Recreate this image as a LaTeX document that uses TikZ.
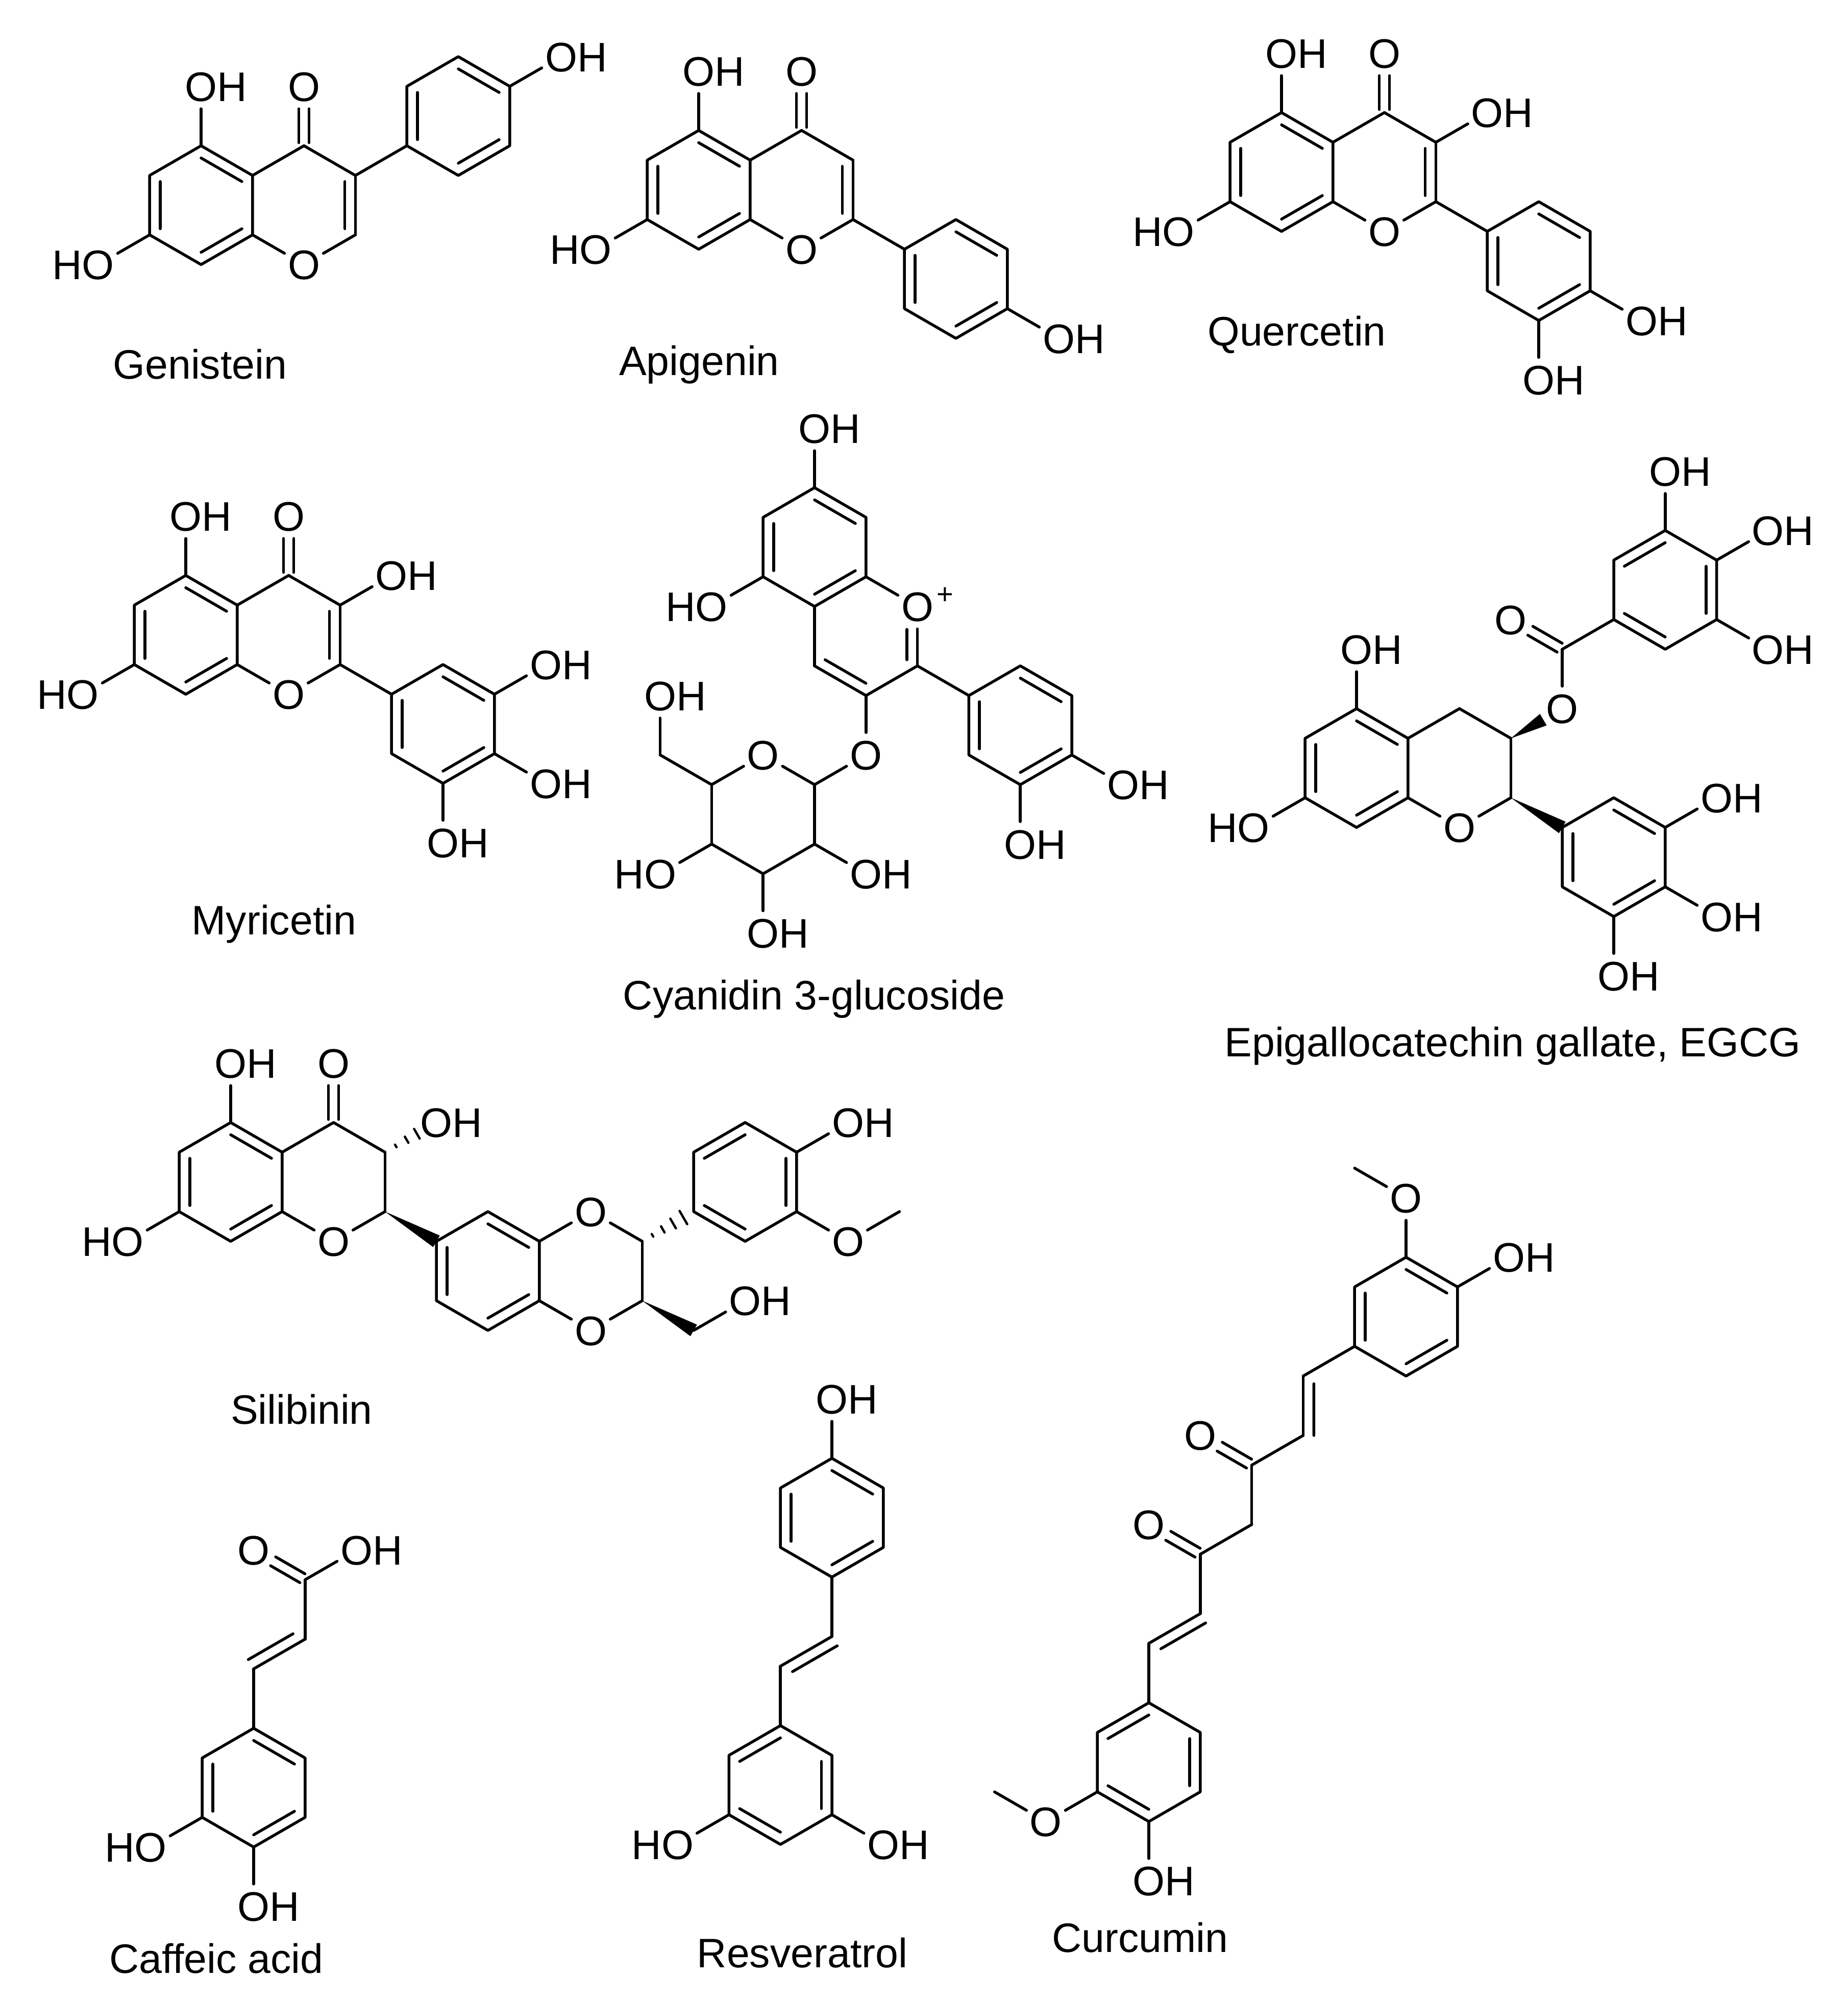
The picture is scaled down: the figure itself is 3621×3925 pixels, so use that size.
\documentclass[tikz,border=0pt]{standalone}
\usepackage{fontspec}
\setmainfont{Liberation Sans}
\usetikzlibrary{calc}
\tikzset{
  bond/.style={line width=5.5pt,line cap=round,line join=round,black},
  atom/.style={inner sep=0pt,anchor=base,font=\fontsize{81}{90}\selectfont},
  ttl/.style={inner sep=0pt,anchor=base,font=\fontsize{80.6}{90}\selectfont},
  chg/.style={inner sep=0pt,font=\fontsize{56}{60}\selectfont},
}
\newcommand\Mol[3]{\begin{scope}[shift={(#1pt,-#2pt)},x=100.8pt,y=-58.2pt]#3\end{scope}}
% ring: centre + six vertices clockwise from the top
\newcommand\Rg[3]{\coordinate (#1) at (#2,#3);
  \coordinate (#11) at ({#2},{#3-2});\coordinate (#12) at ({#2+1},{#3-1});
  \coordinate (#13) at ({#2+1},{#3+1});\coordinate (#14) at ({#2},{#3+2});
  \coordinate (#15) at ({#2-1},{#3+1});\coordinate (#16) at ({#2-1},{#3-1});}
\newcommand\Cy[1]{\draw[bond] (#11)--(#12)--(#13)--(#14)--(#15)--(#16)--cycle;}
\newcommand\Bd[2]{\draw[bond] (#1)--(#2);}
\newcommand\Tl[2]{\draw[bond,shorten >=44pt] (#1)--(#2);}
\newcommand\Dbl[3]{\draw[bond] ($(#1#2)!.206!(#1)$)--($(#1#3)!.206!(#1)$);}
\newcommand\ArA[1]{\Cy{#1}\Dbl{#1}{1}{2}\Dbl{#1}{3}{4}\Dbl{#1}{5}{6}}
\newcommand\ArB[1]{\Cy{#1}\Dbl{#1}{6}{1}\Dbl{#1}{2}{3}\Dbl{#1}{4}{5}}
\newcommand\OH[3]{\coordinate (#1) at (#2,#3);\node[atom,xshift=29.25pt,yshift=-29pt] (#1t) at (#1) {OH};}
\newcommand\HO[3]{\coordinate (#1) at (#2,#3);\node[atom,xshift=-29.25pt,yshift=-29pt] (#1t) at (#1) {HO};}
\newcommand\Ox[3]{\coordinate (#1) at (#2,#3);\node[atom,yshift=-29pt] (#1t) at (#1) {O};}
\newcommand\CO[2]{\draw[bond,shorten <=6pt,shorten >=44pt] ($(#1)!10pt!90:(#2)$)--($(#2)!10pt!-90:(#1)$);
  \draw[bond,shorten <=6pt,shorten >=44pt] ($(#1)!10pt!-90:(#2)$)--($(#2)!10pt!90:(#1)$);}
% acyclic C=C: main bond plus a side line, trimmed at the second end
\newcommand\CC[3]{\draw[bond] (#1)--(#2);
  \draw[bond] ($(#1)!21pt!#3:(#2)$)--($(#2)!.13!(#1)!21pt!-#3:(#1)$);}
\newcommand\Wg[3]{\fill[black] (#1)--($(#2)!#3pt!90:(#1)$)--($(#2)!#3pt!-90:(#1)$)--cycle;}
\newcommand\Hs[3]{\foreach \t/\r in {#3}{\draw[line width=4.5pt,line cap=round,black] ($(#1)!\t!(#2)!\r pt!90:(#2)$)--($(#1)!\t!(#2)!\r pt!-90:(#2)$);}}
% the flavone skeleton
\newcommand\Flav[1]{\Rg{#1a}{0}{0}\Rg{#1b}{2}{0}\ArA{#1a}
  \Bd{#1b6}{#1b1}\Bd{#1b1}{#1b2}\Bd{#1b2}{#1b3}\Dbl{#1b}{2}{3}
  \OH{#1p}{0}{-4}\Tl{#1a1}{#1p}\HO{#1q}{-2}{2}\Tl{#1a5}{#1q}
  \Ox{#1o}{2}{-4}\CO{#1b1}{#1o}\Ox{#1r}{2}{2}\Tl{#1a3}{#1r}\Tl{#1b3}{#1r}}
\begin{document}
\begin{tikzpicture}
\useasboundingbox (0pt,0pt) rectangle (3621pt,-3925pt);
% Genistein
\Mol{394}{402}{\Flav{g}\Rg{gc}{5}{-3}\ArA{gc}\Bd{gb2}{gc5}\OH{gh}{7}{-5}\Tl{gc2}{gh}}
\node[ttl] (tGen) at (392pt,-742pt) {Genistein};
% Apigenin
\Mol{1369}{372}{\Flav{a}\Rg{ac}{5}{3}\ArA{ac}\Bd{ab3}{ac6}\OH{ah}{7}{5}\Tl{ac3}{ah}}
\node[ttl] (tApi) at (1370pt,-735pt) {Apigenin};
% Quercetin
\Mol{2511}{337}{\Flav{q}\Rg{qc}{5}{3}\ArA{qc}\Bd{qb3}{qc6}
  \OH{qh}{4}{-2}\Tl{qb2}{qh}\OH{qi}{7}{5}\Tl{qc3}{qi}\OH{qj}{5}{7}\Tl{qc4}{qj}}
\node[ttl] (tQue) at (2541pt,-677pt) {Quercetin};
% Myricetin
\Mol{364}{1244}{\Flav{m}\Rg{mc}{5}{3}\ArA{mc}\Bd{mb3}{mc6}
  \OH{mh}{4}{-2}\Tl{mb2}{mh}\OH{mi}{7}{1}\Tl{mc2}{mi}\OH{mj}{7}{5}\Tl{mc3}{mj}\OH{mk}{5}{7}\Tl{mc4}{mk}}
\node[ttl] (tMyr) at (537pt,-1831pt) {Myricetin};
% Cyanidin 3-glucoside
\Mol{1596}{1072}{\Rg{ca}{0}{0}\Rg{cb}{1}{3}\Rg{cc}{4}{6}\Rg{cs}{-1}{9}
  \ArA{ca}\ArA{cc}
  \OH{ch}{0}{-4}\Tl{ca1}{ch}\HO{ci}{-2}{2}\Tl{ca5}{ci}
  \Ox{cO}{2}{2}\node[chg,xshift=54pt,yshift=21pt] (cP) at (cO) {+};
  \Tl{cb1}{cO}\Tl{cb3}{cO}
  \draw[bond,shorten >=33pt] ($(cb3)!.206!(cb)$)--($(cO)!.206!(cb)$);
  \Bd{cb3}{cb4}\Bd{cb4}{cb5}\Bd{cb5}{cb6}\Dbl{cb}{4}{5}
  \Bd{cb3}{cc6}
  \OH{cj}{6}{8}\Tl{cc3}{cj}\OH{ck}{4}{10}\Tl{cc4}{ck}
  \Ox{cg}{1}{7}\Tl{cb4}{cg}\Tl{cs2}{cg}
  \Ox{cso}{-1}{7}\Tl{cs2}{cso}\Tl{cs6}{cso}
  \Bd{cs2}{cs3}\Bd{cs3}{cs4}\Bd{cs4}{cs5}\Bd{cs5}{cs6}
  \coordinate (cm) at (-3,7);\Bd{cs6}{cm}\OH{cl}{-3}{5}\Tl{cm}{cl}
  \OH{cn}{1}{11}\Tl{cs3}{cn}\HO{cr}{-3}{11}\Tl{cs5}{cr}\OH{cu}{-1}{13}\Tl{cs4}{cu}}
\node[ttl] (tCya) at (1595pt,-1978pt) {Cyanidin 3-glucoside};
% EGCG
\Mol{2658}{1505}{\Rg{ea}{0}{0}\Rg{eb}{2}{0}\Rg{ed}{6}{-6}\Rg{ee}{5}{3}
  \ArA{ea}\ArB{ed}\ArA{ee}
  \OH{eh}{0}{-4}\Tl{ea1}{eh}\HO{ei}{-2}{2}\Tl{ea5}{ei}
  \Bd{eb6}{eb1}\Bd{eb1}{eb2}\Bd{eb2}{eb3}
  \Ox{er}{2}{2}\Tl{ea3}{er}\Tl{eb3}{er}
  \Wg{eb3}{ee6}{13}
  \Ox{es}{4}{-2}\coordinate (ew) at ($(eb2)!.63!(es)$);\Wg{eb2}{ew}{13}
  \coordinate (ec) at (4,-4);\Tl{ec}{es}\Ox{et}{3}{-5}\CO{ec}{et}\Bd{ec}{ed5}
  \OH{ej}{6}{-10}\Tl{ed1}{ej}\OH{ek}{8}{-8}\Tl{ed2}{ek}\OH{el}{8}{-4}\Tl{ed3}{el}
  \OH{em}{7}{1}\Tl{ee2}{em}\OH{en}{7}{5}\Tl{ee3}{en}\OH{eo}{5}{7}\Tl{ee4}{eo}}
\node[ttl] (tEgc) at (2964pt,-2070pt) {Epigallocatechin gallate, EGCG};
% Silibinin
\Mol{452}{2316}{\Rg{sa}{0}{0}\Rg{sb}{2}{0}\Rg{sc}{5}{3}\Rg{sd}{7}{3}\Rg{se}{10}{0}
  \ArA{sa}\ArA{sc}\ArB{se}
  \OH{sh}{0}{-4}\Tl{sa1}{sh}\HO{si}{-2}{2}\Tl{sa5}{si}
  \Bd{sb6}{sb1}\Bd{sb1}{sb2}\Bd{sb2}{sb3}
  \Ox{so}{2}{-4}\CO{sb1}{so}
  \Ox{sr}{2}{2}\Tl{sa3}{sr}\Tl{sb3}{sr}
  \OH{sj}{4}{-2}\Hs{sb2}{sj}{.21/3,.42/7,.62/11}
  \Wg{sb3}{sc6}{13}
  \Ox{st}{7}{1}\Ox{su}{7}{5}\Tl{sc2}{st}\Tl{sd2}{st}\Tl{sc3}{su}\Tl{sd3}{su}\Bd{sd2}{sd3}
  \Hs{sd2}{se5}{.2/3,.4/7,.6/11,.8/15}
  \coordinate (sm) at (9,5);\Wg{sd3}{sm}{13}\OH{sk}{10}{4}\Tl{sm}{sk}
  \OH{sl}{12}{-2}\Tl{se2}{sl}
  \Ox{sv}{12}{2}\Tl{se3}{sv}\coordinate (sw) at (13,1);\Tl{sw}{sv}}
\node[ttl] (tSil) at (591pt,-2790pt) {Silibinin};
% Caffeic acid
\Mol{497}{3503}{\Rg{ka}{0}{0}\ArA{ka}
  \HO{kh}{-2}{2}\Tl{ka5}{kh}\OH{ki}{0}{4}\Tl{ka4}{ki}
  \coordinate (kb) at (0,-4);\coordinate (kc) at (1,-5);\coordinate (kd) at (1,-7);
  \Bd{ka1}{kb}\CC{kb}{kc}{90}\Bd{kc}{kd}
  \Ox{ko}{0}{-8}\CO{kd}{ko}\OH{kj}{2}{-8}\Tl{kd}{kj}}
\node[ttl] (tCaf) at (424pt,-3866pt) {Caffeic acid};
% Resveratrol
\Mol{1630}{2974}{\Rg{ra}{0}{0}\Rg{rb}{-1}{9}\ArA{ra}\ArB{rb}
  \OH{rh}{0}{-4}\Tl{ra1}{rh}
  \coordinate (rc) at (0,4);\coordinate (rd) at (-1,5);
  \Bd{ra4}{rc}\CC{rc}{rd}{90}\Bd{rd}{rb1}
  \HO{ri}{-3}{11}\Tl{rb5}{ri}\OH{rj}{1}{11}\Tl{rb3}{rj}}
\node[ttl] (tRes) at (1572pt,-3855pt) {Resveratrol};
% Curcumin
\Mol{2251}{3453}{\Rg{ua}{0}{0}\Rg{ub}{5}{-15}\ArB{ua}\ArA{ub}
  \Ox{uo}{-2}{2}\Tl{ua5}{uo}\coordinate (um) at (-3,1);\Tl{um}{uo}
  \OH{uh}{0}{4}\Tl{ua4}{uh}
  \coordinate (u1) at (0,-4);\coordinate (u2) at (1,-5);\coordinate (u3) at (1,-7);
  \coordinate (u4) at (2,-8);\coordinate (u5) at (2,-10);\coordinate (u6) at (3,-11);
  \coordinate (u7) at (3,-13);
  \Bd{ua1}{u1}\CC{u2}{u1}{90}\Bd{u2}{u3}\Bd{u3}{u4}\Bd{u4}{u5}\Bd{u5}{u6}
  \CC{u6}{u7}{-90}\Bd{u7}{ub5}
  \Ox{up}{0}{-8}\CO{u3}{up}\Ox{uq}{1}{-11}\CO{u5}{uq}
  \Ox{ur}{5}{-19}\Tl{ub1}{ur}\coordinate (un) at (4,-20);\Tl{un}{ur}
  \OH{ui}{7}{-17}\Tl{ub2}{ui}}
\node[ttl] (tCur) at (2234pt,-3825pt) {Curcumin};
\end{tikzpicture}
\end{document}
